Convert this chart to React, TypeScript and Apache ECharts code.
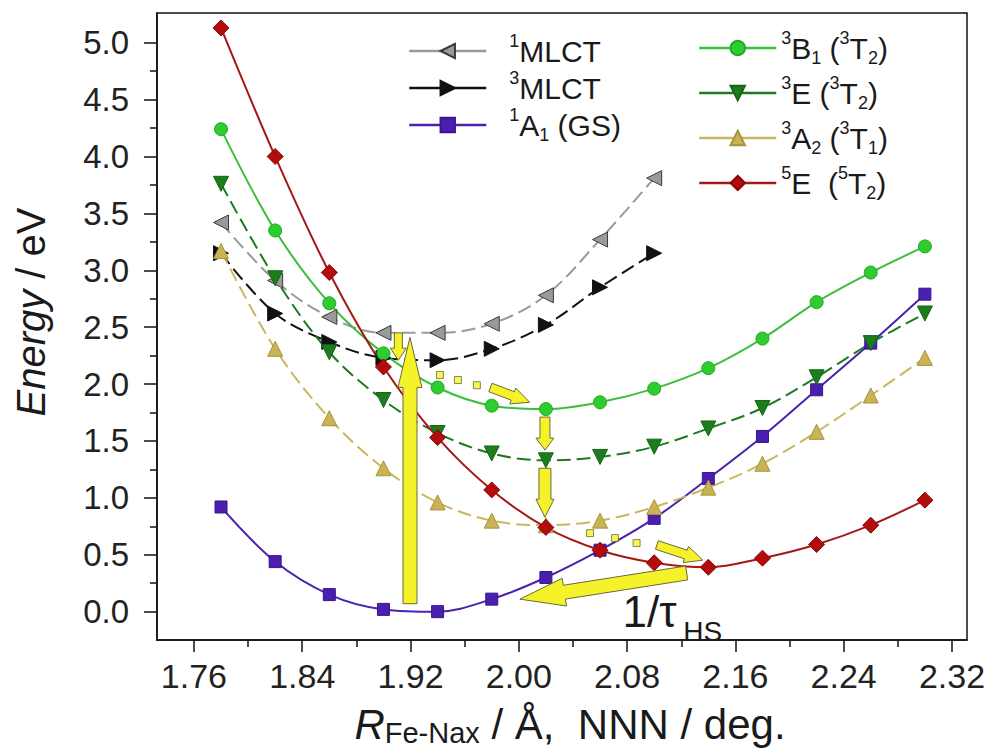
import React, { useEffect, useRef } from "react";
import * as echarts from "echarts";

// ---- data (Fe–N_ax distance in Å, energy in eV) ----
const X_ALL = [1.78, 1.82, 1.86, 1.9, 1.94, 1.98, 2.02, 2.06, 2.1, 2.14, 2.18, 2.22, 2.26, 2.3];
const X_MLCT = [1.78, 1.82, 1.86, 1.9, 1.94, 1.98, 2.02, 2.06, 2.1];

const mlct1 = [3.42, 2.91, 2.59, 2.45, 2.45, 2.53, 2.78, 3.27, 3.81];
const mlct3 = [3.15, 2.62, 2.37, 2.23, 2.21, 2.31, 2.52, 2.85, 3.15];
const gsA1 = [0.92, 0.44, 0.15, 0.02, 0.0, 0.11, 0.3, 0.54, 0.82, 1.17, 1.54, 1.95, 2.36, 2.79];
const tB1 = [4.24, 3.35, 2.71, 2.27, 1.97, 1.81, 1.78, 1.84, 1.96, 2.14, 2.4, 2.72, 2.98, 3.21];
const tE = [3.76, 2.93, 2.28, 1.86, 1.57, 1.39, 1.33, 1.36, 1.45, 1.61, 1.79, 2.06, 2.36, 2.62];
const tA2 = [3.17, 2.31, 1.7, 1.26, 0.96, 0.8, 0.76, 0.8, 0.92, 1.09, 1.3, 1.58, 1.9, 2.23];
const qE = [5.13, 4.0, 2.98, 2.15, 1.53, 1.07, 0.74, 0.54, 0.43, 0.39, 0.47, 0.59, 0.76, 0.98];

// ---- axes ----
const X_MIN = 1.7327;
const X_MAX = 2.3311;
const Y_MIN = -0.249;
const Y_MAX = 5.261;
const X_MAJOR = [1.76, 1.84, 1.92, 2.0, 2.08, 2.16, 2.24, 2.32];
const X_MINOR = [1.8, 1.88, 1.96, 2.04, 2.12, 2.2, 2.28];
const Y_MAJOR = [0, 0.5, 1, 1.5, 2, 2.5, 3, 3.5, 4, 4.5, 5];
const Y_MINOR = [0.25, 0.75, 1.25, 1.75, 2.25, 2.75, 3.25, 3.75, 4.25, 4.75];

// ---- annotations (data coordinates) ----
const DOTS_1 = [[1.9417, 2.08], [1.955, 2.036], [1.969, 1.99]];
const DOTS_2 = [[2.0526, 0.69], [2.071, 0.647], [2.087, 0.603]];
const ARROWS = [
  { from: [1.9196, 0.07], to: [1.9196, 2.41], shaft: 14, head: 24, headLen: 50 },
  { from: [1.911, 2.45], to: [1.911, 2.21], shaft: 8, head: 16, headLen: 12 },
  { from: [1.979, 1.97], to: [2.008, 1.84], shaft: 9, head: 17, headLen: 18 },
  { from: [2.0193, 1.71], to: [2.0193, 1.42], shaft: 10, head: 18, headLen: 12 },
  { from: [2.0193, 1.26], to: [2.0193, 0.83], shaft: 12, head: 18, headLen: 18 },
  { from: [2.102, 0.586], to: [2.136, 0.453], shaft: 9, head: 17, headLen: 18 },
  { from: [2.124, 0.34], to: [2.0008, 0.11], shaft: 14, head: 28, headLen: 45 },
];
const TAU_POS = [2.0766, 0.0];
const TAU_SUB_POS = [2.1215, -0.17];

const FONT = "'Liberation Sans', Arial, Helvetica, sans-serif";

const zip = (xs: number[], ys: number[]) => xs.map((x, i) => [x, ys[i]]);

const LEGEND_RICH: Record<string, string> = {
  "¹MLCT": "{sup|1}{m|MLCT}",
  "³MLCT": "{sup|3}{m|MLCT}",
  "¹A₁ (GS)": "{sup|1}{m|A}{sub|1}{m| (GS)}",
  "³B₁ (³T₂)": "{sup|3}{m|B}{sub|1}{m| (}{sup|3}{m|T}{sub|2}{m|)}",
  "³E (³T₂)": "{sup|3}{m|E (}{sup|3}{m|T}{sub|2}{m|)}",
  "³A₂ (³T₁)": "{sup|3}{m|A}{sub|2}{m| (}{sup|3}{m|T}{sub|1}{m|)}",
  "⁵E (⁵T₂)": "{sup|5}{m|E  (}{sup|5}{m|T}{sub|2}{m|)}",
};

const richStyles = {
  m: { fontSize: 30, lineHeight: 38, fontFamily: FONT, color: "#1a1a1a", verticalAlign: "middle" },
  sup: { fontSize: 18, lineHeight: 18, fontFamily: FONT, color: "#1a1a1a", verticalAlign: "top" },
  sub: { fontSize: 18, lineHeight: 18, fontFamily: FONT, color: "#1a1a1a", verticalAlign: "bottom" },
};

function arrowPoly(p0: number[], p1: number[], shaftW: number, headW: number, headL: number) {
  const dx = p1[0] - p0[0];
  const dy = p1[1] - p0[1];
  const len = Math.hypot(dx, dy) || 1;
  const ux = dx / len;
  const uy = dy / len;
  const nx = -uy;
  const ny = ux;
  const bx = p1[0] - ux * headL;
  const by = p1[1] - uy * headL;
  return [
    [p0[0] + (nx * shaftW) / 2, p0[1] + (ny * shaftW) / 2],
    [bx + (nx * shaftW) / 2, by + (ny * shaftW) / 2],
    [bx + (nx * headW) / 2, by + (ny * headW) / 2],
    [p1[0], p1[1]],
    [bx - (nx * headW) / 2, by - (ny * headW) / 2],
    [bx - (nx * shaftW) / 2, by - (ny * shaftW) / 2],
    [p0[0] - (nx * shaftW) / 2, p0[1] - (ny * shaftW) / 2],
  ];
}

function lineSeries(
  name: string,
  data: number[][],
  color: string,
  lineColor: string,
  symbol: string,
  size: number,
  rotate: number,
  dashed: boolean,
  border: string
) {
  return {
    name,
    type: "line",
    data,
    smooth: 0.35,
    symbol,
    symbolSize: size,
    symbolRotate: rotate,
    showSymbol: true,
    xAxisIndex: 0,
    yAxisIndex: 0,
    lineStyle: { color: lineColor, width: 2, type: dashed ? [14, 6] : "solid" },
    itemStyle: { color, borderColor: border, borderWidth: 1 },
    emphasis: { disabled: true },
  };
}

export default function App() {
  const ref = useRef<HTMLDivElement>(null);

  useEffect(() => {
    if (!ref.current) return;
    const chart = echarts.init(ref.current, null, { renderer: "svg" });

    const axisLabelStyle = { fontSize: 34, color: "#222", fontFamily: FONT };

    const option: any = {
      animation: false,
      backgroundColor: "#fff",
      grid: {
        left: 157,
        top: 13,
        right: 27,
        bottom: 110,
        show: true,
        borderColor: "#111",
        borderWidth: 1.5,
        backgroundColor: "transparent",
      },
      xAxis: [
        {
          type: "value",
          min: X_MIN,
          max: X_MAX,
          position: "bottom",
          axisLine: { show: true, onZero: false, lineStyle: { color: "#111", width: 1.5 } },
          axisTick: { show: true, inside: false, length: 12, customValues: X_MAJOR, lineStyle: { color: "#111", width: 1.5 } },
          axisLabel: { ...axisLabelStyle, margin: 19, customValues: X_MAJOR, formatter: (v: number) => v.toFixed(2) },
          splitLine: { show: false },
        },
        {
          type: "value",
          min: X_MIN,
          max: X_MAX,
          position: "bottom",
          axisLine: { show: false, onZero: false },
          axisTick: { show: true, inside: false, length: 7, customValues: X_MINOR, lineStyle: { color: "#111", width: 1.5 } },
          axisLabel: { show: false },
          splitLine: { show: false },
        },
      ],
      yAxis: [
        {
          type: "value",
          min: Y_MIN,
          max: Y_MAX,
          position: "left",
          axisLine: { show: true, onZero: false, lineStyle: { color: "#111", width: 1.5 } },
          axisTick: { show: true, inside: false, length: 13, customValues: Y_MAJOR, lineStyle: { color: "#111", width: 1.5 } },
          axisLabel: { ...axisLabelStyle, fontSize: 33, margin: 28, customValues: Y_MAJOR, formatter: (v: number) => v.toFixed(1) },
          splitLine: { show: false },
        },
        {
          type: "value",
          min: Y_MIN,
          max: Y_MAX,
          position: "left",
          axisLine: { show: false, onZero: false },
          axisTick: { show: true, inside: false, length: 7, customValues: Y_MINOR, lineStyle: { color: "#111", width: 1.5 } },
          axisLabel: { show: false },
          splitLine: { show: false },
        },
      ],
      legend: [
        {
          data: ["¹MLCT", "³MLCT", "¹A₁ (GS)"],
          orient: "vertical",
          left: 408,
          top: 32,
          padding: 0,
          itemWidth: 77,
          itemHeight: 18,
          itemGap: 3,
          selectedMode: false,
          lineStyle: { type: "solid", width: 2.5 },
          formatter: (n: string) => LEGEND_RICH[n] || n,
          textStyle: { padding: [0, 0, 0, 18], rich: richStyles },
        },
        {
          data: ["³B₁ (³T₂)", "³E (³T₂)", "³A₂ (³T₁)", "⁵E (⁵T₂)"],
          orient: "vertical",
          left: 698,
          top: 29,
          padding: 0,
          itemWidth: 77,
          itemHeight: 18,
          itemGap: 7,
          selectedMode: false,
          lineStyle: { type: "solid", width: 2.5 },
          formatter: (n: string) => LEGEND_RICH[n] || n,
          textStyle: { padding: [0, 0, 0, 0], rich: richStyles },
        },
      ],
      series: [
        lineSeries("¹MLCT", zip(X_MLCT, mlct1), "#9a9a9a", "#9a9a9a", "triangle", 15, 90, true, "#3a3a3a"),
        lineSeries("³MLCT", zip(X_MLCT, mlct3), "#111111", "#111111", "triangle", 15, -90, true, "#111111"),
        lineSeries("¹A₁ (GS)", zip(X_ALL, gsA1), "#4a1fb0", "#4a22b0", "rect", 12, 0, false, "#3a1590"),
        lineSeries("³B₁ (³T₂)", zip(X_ALL, tB1), "#2fcc2f", "#3cbf3c", "circle", 13, 0, false, "#22a822"),
        lineSeries("³E (³T₂)", zip(X_ALL, tE), "#1b7d1b", "#1f7a1f", "triangle", 15, 180, true, "#166616"),
        lineSeries("³A₂ (³T₁)", zip(X_ALL, tA2), "#c9b355", "#cbb660", "triangle", 15, 0, true, "#a8943c"),
        lineSeries("⁵E (⁵T₂)", zip(X_ALL, qE), "#b30c0c", "#a51818", "diamond", 16, 0, false, "#8a0606"),
        {
          name: "dots",
          type: "scatter",
          data: [...DOTS_1, ...DOTS_2],
          symbol: "rect",
          symbolSize: 7,
          xAxisIndex: 0,
          yAxisIndex: 0,
          z: 5,
          itemStyle: { color: "#f5f22a", borderColor: "#6b6b3a", borderWidth: 1 },
          emphasis: { disabled: true },
        },
      ],
    };

    chart.setOption(option);

    const toPx = (p: number[]) => chart.convertToPixel({ xAxisIndex: 0, yAxisIndex: 0 } as any, p) as number[];

    const graphics: any[] = ARROWS.map((a) => ({
      type: "polygon",
      z: 100,
      shape: { points: arrowPoly(toPx(a.from), toPx(a.to), a.shaft, a.head, a.headLen) },
      style: { fill: "#f5f22a", stroke: "#6b6b3a", lineWidth: 1 },
      silent: true,
    }));

    const tau = toPx(TAU_POS);
    graphics.push({
      type: "text",
      z: 100,
      x: tau[0],
      y: tau[1],
      silent: true,
      style: {
        text: "1/τ",
        align: "left",
        verticalAlign: "middle",
        fontSize: 44,
        fontFamily: FONT,
        fill: "#1a1a1a",
      },
    });
    const tauSub = toPx(TAU_SUB_POS);
    graphics.push({
      type: "text",
      z: 100,
      x: tauSub[0],
      y: tauSub[1],
      silent: true,
      style: {
        text: "HS",
        align: "left",
        verticalAlign: "middle",
        fontSize: 28,
        fontFamily: FONT,
        fill: "#1a1a1a",
      },
    });

    graphics.push({
      type: "text",
      z: 100,
      x: 31,
      y: 312,
      rotation: Math.PI / 2,
      silent: true,
      style: {
        text: "{i|Energy}{n| / eV}",
        align: "center",
        verticalAlign: "middle",
        rich: {
          i: { fontSize: 40, fontStyle: "italic", fontFamily: FONT, fill: "#1a1a1a" },
          n: { fontSize: 40, fontFamily: FONT, fill: "#1a1a1a" },
        },
      },
    });

    graphics.push({
      type: "text",
      z: 100,
      x: 570,
      y: 724,
      silent: true,
      style: {
        text: "{r|R}{s|Fe-Nax}{n| / Å,  NNN / deg.}",
        align: "center",
        verticalAlign: "middle",
        rich: {
          r: { fontSize: 42, lineHeight: 46, fontStyle: "italic", fontFamily: FONT, fill: "#1a1a1a", verticalAlign: "middle" },
          s: { fontSize: 29, lineHeight: 26, fontFamily: FONT, fill: "#1a1a1a", verticalAlign: "bottom" },
          n: { fontSize: 42, lineHeight: 46, fontFamily: FONT, fill: "#1a1a1a", verticalAlign: "middle" },
        },
      },
    });

    chart.setOption({ graphic: graphics });

    return () => {
      chart.dispose();
    };
  }, []);

  return (
    <div
      ref={ref}
      style={{ position: "fixed", left: 0, top: 0, width: 994, height: 750, background: "#fff" }}
    />
  );
}
